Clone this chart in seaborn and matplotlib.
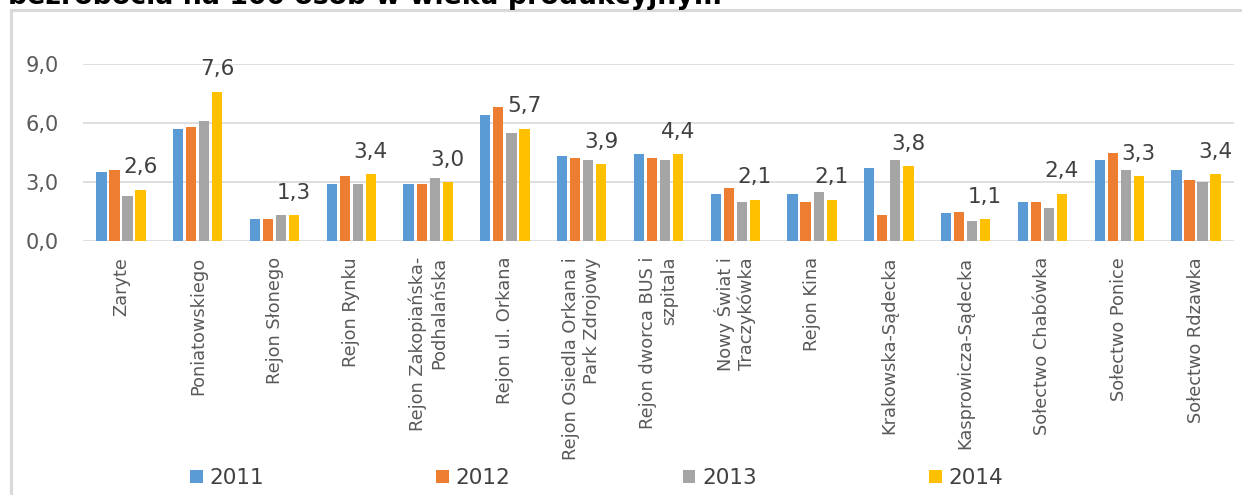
import numpy as np
import pandas as pd
import seaborn as sns
import matplotlib.pyplot as plt
from matplotlib.patches import Patch
from matplotlib.lines import Line2D

# --- data -----------------------------------------------------------------
categories = [
    "Zaryte",
    "Poniatowskiego",
    "Rejon Słonego",
    "Rejon Rynku",
    "Rejon Zakopiańska-\nPodhalańska",
    "Rejon ul. Orkana",
    "Rejon Osiedla Orkana i\nPark Zdrojowy",
    "Rejon dworca BUS i\nszpitala",
    "Nowy Świat i\nTraczykówka",
    "Rejon Kina",
    "Krakowska-Sądecka",
    "Kasprowicza-Sądecka",
    "Sołectwo Chabówka",
    "Sołectwo Ponice",
    "Sołectwo Rdzawka",
]
years = ["2011", "2012", "2013", "2014"]
v2011 = [3.5, 5.7, 1.1, 2.9, 2.9, 6.4, 4.3, 4.4, 2.4, 2.4, 3.7, 1.4, 2.0, 4.1, 3.6]
v2012 = [3.6, 5.8, 1.1, 3.3, 2.9, 6.8, 4.2, 4.2, 2.7, 2.0, 1.3, 1.5, 2.0, 4.5, 3.1]
v2013 = [2.3, 6.1, 1.3, 2.9, 3.2, 5.5, 4.1, 4.1, 2.0, 2.5, 4.1, 1.0, 1.7, 3.6, 3.0]
v2014 = [2.6, 7.6, 1.3, 3.4, 3.0, 5.7, 3.9, 4.4, 2.1, 2.1, 3.8, 1.1, 2.4, 3.3, 3.4]
yticks = [0, 3, 6, 9]
title = "bezrobocia na 100 osób w wieku produkcyjnym"

colors = ["#5B9BD5", "#ED7D31", "#A5A5A5", "#FFC000"]

df = pd.DataFrame({
    "kategoria": categories * 4,
    "rok": np.repeat(years, len(categories)),
    "wartosc": v2011 + v2012 + v2013 + v2014,
})

# --- style ----------------------------------------------------------------
sns.set_style("white")
plt.rcParams["font.family"] = ["DejaVu Sans"]

W, H = 1242, 495
fig = plt.figure(figsize=(W / 100, H / 100), dpi=100)
ax = fig.add_axes([82.6 / W, (H - 241) / H, (1234.4 - 82.6) / W, 177 / H])

sns.barplot(
    data=df, x="kategoria", y="wartosc", hue="rok",
    palette=colors, saturation=1, width=0.68, gap=0.22,
    errorbar=None, legend=False, ax=ax, linewidth=0, edgecolor="none",
)

ax.set_ylim(0, 9)
ax.set_xlim(-0.5, len(categories) - 0.5)
ax.set_yticks(yticks)
ax.set_yticklabels([f"{t:.1f}".replace(".", ",") for t in yticks])
ax.yaxis.grid(True, color="#D9D9D9", linewidth=1.2)
ax.set_axisbelow(True)
ax.set_xlabel("")
ax.set_ylabel("")
for s in ax.spines.values():
    s.set_visible(False)

ax.tick_params(axis="y", length=0, pad=17, labelsize=15, labelcolor="#595959")
ax.tick_params(axis="x", length=0, pad=11.5, labelsize=12.8, labelcolor="#595959")
ax.set_xticks(range(len(categories)))
ax.set_xticklabels(categories, rotation=90, ha="center", va="top",
                   multialignment="right")

# value labels on the 2014 series
ax.bar_label(
    ax.containers[3],
    labels=[f"{v:.1f}".replace(".", ",") for v in v2014],
    padding=9, fontsize=15.5, color="#404040", clip_on=False,
)

# legend along the bottom
handles = [Patch(facecolor=c, edgecolor="none") for c in colors]
fig.legend(
    handles, years, loc="center left",
    bbox_to_anchor=(190 / W, 1 - 478 / H), ncol=4, frameon=False,
    fontsize=15.5, labelcolor="#404040", handlelength=0.6, handleheight=0.6,
    handletextpad=0.3, columnspacing=8.0, borderpad=0, borderaxespad=0,
)

# chart frame: top and left edges
frame_kw = dict(transform=fig.transFigure, color="#D9D9D9", linewidth=2.2)
fig.add_artist(Line2D([11 / W, 1.0], [1 - 10 / H, 1 - 10 / H], **frame_kw))
fig.add_artist(Line2D([11 / W, 11 / W], [0.0, 1 - 10 / H], **frame_kw))

# heading above the frame
fig.text(8 / W, 1 - 4 / H, title, fontsize=19.3, fontweight="bold",
         ha="left", va="baseline", color="black")

fig.savefig("out.png", dpi=100)
